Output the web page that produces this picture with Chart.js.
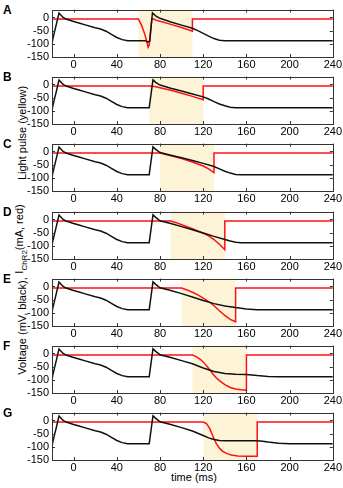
<!DOCTYPE html>
<html>
<head>
<meta charset="utf-8">
<script src="https://cdn.jsdelivr.net/npm/chart.js@4.4.1/dist/chart.umd.min.js"></script>
<style>
body { margin: 0; width: 343px; height: 488px; background: #fff; position: relative; overflow: hidden;
       font-family: "Liberation Sans", Arial, sans-serif; color: #000; }
canvas { position: absolute; left: 0; }
.lt { position: absolute; left: 3px; font-weight: bold; font-size: 12px; line-height: 12px; }
.yl { position: absolute; font-size: 11px; white-space: nowrap; line-height: 12px;
      transform: translate(-50%, -50%) rotate(-90deg); }
.yl sub { font-size: 8px; }
.xl { position: absolute; font-size: 11px; white-space: nowrap; transform: translate(-50%, -50%); }
</style>
</head>
<body>
<div class="yl" style="left:22px;top:326px">Voltage (mV, black),</div>
<div class="yl" style="left:22px;top:239px">I<sub>ChR2</sub>(mA, red)</div>
<div class="yl" style="left:22px;top:133px">Light pulse (yellow)</div>
<div class="xl" style="left:194px;top:477px">time (ms)</div>
<script>
const xTicks = [0, 40, 80, 120, 160, 200, 240];
const yTicks = [-150, -100, -50, 0];
const panelLabels = ['A', 'B', 'C', 'D', 'E', 'F', 'G'];
const pulseStart = [60, 70, 80, 90, 100, 110, 120];
const pulseEnd = [110, 120, 130, 140, 150, 160, 170];

// first action potential, same in every panel
const firstSpike = [[-20,-88],[-19.5,-86],[-13.5,17],[-10,1],[-7,-6],[0,-15],[5,-21],[10,-27],[20,-39],[25,-44],
  [30,-52],[35,-64],[40,-76],[45,-84],[50,-88],[55,-88]];

const voltA = [[66,-88],[69,-93],[70.5,-90],[73,18],[76,6],[80,-3],[90,-17],[100,-29],[110,-41],[115,-50],[120,-60],
  [125,-71],[130,-80],[135,-86],[140,-88],[240,-88]];
const voltB = [[70,-88],[73.5,18],[76,8],[80,-2],[90,-14],[100,-25],[110,-36],[120,-47],[125,-55],[130,-65],[135,-74],
  [140,-81],[145,-86],[150,-88],[240,-88]];
const voltC = [[70,-88],[73.5,18],[76,8],[80,-4],[90,-14],[100,-24],[110,-34],[120,-45],[130,-57],[135,-66],[140,-75],
  [145,-82],[150,-87],[155,-88],[240,-88]];
const voltD = [[70,-88],[73.5,18],[76,8],[80,-5],[90,-15],[100,-27],[110,-39],[120,-51],[130,-64],[140,-76],[145,-82],
  [150,-86],[155,-88],[240,-88]];
const voltE = [[70,-88],[73.5,18],[76,8],[80,-5],[90,-15],[100,-27],[110,-40],[120,-53],[130,-65],[140,-74],[150,-80],
  [160,-85],[170,-88],[240,-88]];
const voltF = [[70,-88],[73.5,18],[76,8],[80,-5],[90,-15],[100,-27],[110,-39],[120,-55],[130,-68],[140,-76],[150,-79],
  [160,-80],[170,-84],[180,-87],[190,-88],[240,-88]];
const voltG = [[70,-88],[73.5,18],[76,8],[80,-5],[90,-15],[100,-27],[110,-40],[120,-57],[125,-66],[130,-72],[135,-76],
  [140,-77],[170,-77],[175,-79],[180,-82],[190,-86],[200,-88],[240,-88]];

const currA = [[-20,-6],[60,-6],[63,-30],[66,-65],[68,-95],[69,-113],[70,-105],[71.5,-40],[72.5,-5],[74,-6],[76,-10],
  [80,-14],[90,-26],[100,-38],[110,-52],[110,-6],[240,-6]];
const currB = [[-20,-6],[70,-6],[75,-8],[80,-12],[90,-22],[100,-33],[110,-45],[120,-58],[120,-6],[240,-6]];
const currC = [[-20,-6],[80,-6],[90,-16],[100,-27],[110,-40],[120,-55],[125,-66],[130,-80],[130,-6],[240,-6]];
const currD = [[-20,-6],[90,-6],[95,-12],[100,-20],[110,-35],[120,-52],[125,-62],[130,-76],[135,-94],[140,-115],
  [140,-6],[240,-6]];
const currE = [[-20,-6],[100,-6],[105,-13],[110,-22],[115,-32],[120,-44],[125,-57],[130,-73],[135,-92],[140,-110],
  [145,-125],[150,-134],[150,-6],[240,-6]];
const currF = [[-20,-6],[110,-6],[113,-11],[117,-21],[120,-32],[123,-46],[126,-62],[129,-78],[132,-92],[135,-103],
  [140,-118],[145,-129],[150,-135],[155,-138],[160,-139],[160,-6],[240,-6]];
const currG = [[-20,-6],[120,-6],[123,-12],[126,-30],[129,-60],[132,-87],[135,-105],[138,-117],[142,-126],[146,-131],
  [152,-135],[160,-136],[170,-136],[170,-6],[240,-6]];

const volts = [voltA, voltB, voltC, voltD, voltE, voltF, voltG];
const currs = [currA, currB, currC, currD, currE, currF, currG];

Chart.defaults.font.family = '"Liberation Sans", Arial, sans-serif';
Chart.defaults.font.size = 11;
Chart.defaults.color = '#000';

const boxPlugin = {
    id: 'box',
    beforeDatasetsDraw(chart, args, opts) {
        const ctx = chart.ctx, a = chart.chartArea, x = chart.scales.x;
        const x0 = x.getPixelForValue(opts.start), x1 = x.getPixelForValue(opts.end);
        ctx.save();
        ctx.fillStyle = '#fdf4d8';
        ctx.fillRect(x0, a.top, x1 - x0, a.bottom - a.top);
        ctx.restore();
    },
    afterDatasetsDraw(chart) {
        const ctx = chart.ctx, a = chart.chartArea, x = chart.scales.x, y = chart.scales.y;
        ctx.save();
        ctx.strokeStyle = '#333';
        ctx.lineWidth = 1;
        ctx.beginPath();
        xTicks.forEach(v => {
            const px = Math.round(x.getPixelForValue(v)) + 0.5;
            ctx.moveTo(px, a.bottom); ctx.lineTo(px, a.bottom - 3);
            ctx.moveTo(px, a.top); ctx.lineTo(px, a.top + 3);
        });
        yTicks.forEach(v => {
            const py = Math.round(y.getPixelForValue(v)) + 0.5;
            ctx.moveTo(a.left, py); ctx.lineTo(a.left + 3, py);
            ctx.moveTo(a.right, py); ctx.lineTo(a.right - 3, py);
        });
        ctx.stroke();
        ctx.strokeRect(Math.round(a.left) + 0.5, Math.round(a.top) + 0.5,
            Math.round(a.right - a.left), Math.round(a.bottom - a.top));
        ctx.restore();
    }
};

panelLabels.forEach((lab, i) => {
    const top = Math.round(67.2 * i);
    const div = document.createElement('div');
    div.className = 'lt';
    div.style.top = (top + 4) + 'px';
    div.textContent = lab;
    document.body.appendChild(div);

    const cv = document.createElement('canvas');
    cv.width = 343; cv.height = 71;
    cv.style.top = top + 'px';
    document.body.appendChild(cv);

    new Chart(cv.getContext('2d'), {
        type: 'line',
        data: {
            datasets: [{
                label: 'Voltage',
                data: firstSpike.concat(volts[i]),
                borderColor: '#111',
                borderWidth: 1.5,
                pointRadius: 0,
                tension: 0
            }, {
                label: 'I ChR2',
                data: currs[i],
                borderColor: '#ff1010',
                borderWidth: 1.5,
                pointRadius: 0,
                tension: 0
            }]
        },
        options: {
            responsive: false,
            animation: false,
            layout: { padding: { top: 9, right: 10, left: 0, bottom: 0 } },
            plugins: {
                legend: { display: false },
                tooltip: { enabled: false },
                box: { start: pulseStart[i], end: pulseEnd[i] }
            },
            scales: {
                x: {
                    type: 'linear', min: -20, max: 240,
                    grid: { display: false, drawTicks: false },
                    border: { display: false },
                    ticks: { padding: 1, maxRotation: 0, autoSkip: false },
                    afterBuildTicks: s => { s.ticks = xTicks.map(v => ({ value: v })); },
                    afterFit: s => { s.height = 14; }
                },
                y: {
                    min: -150, max: 30,
                    grid: { display: false, drawTicks: false },
                    border: { display: false },
                    ticks: { padding: 3, autoSkip: false },
                    afterBuildTicks: s => { s.ticks = yTicks.map(v => ({ value: v })); },
                    afterFit: s => { s.width = 52; }
                }
            }
        },
        plugins: [boxPlugin]
    });
});
</script>
</body>
</html>
